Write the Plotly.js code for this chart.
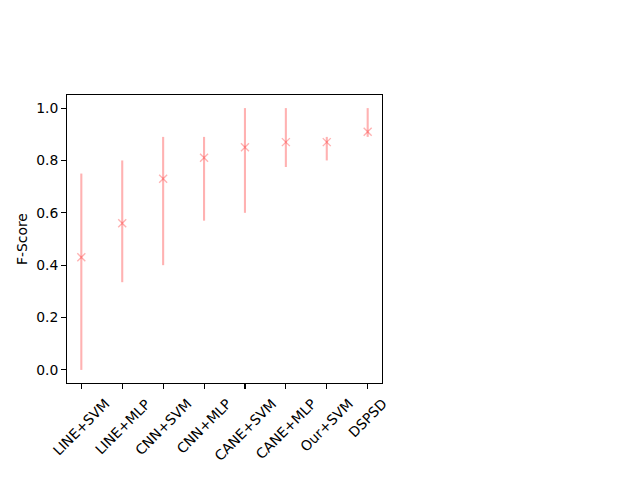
<!DOCTYPE html>
<html>
<head>
<meta charset="utf-8">
<script src="https://cdn.plot.ly/plotly-3.0.1.min.js"></script>
<style>html,body{margin:0;padding:0;background:#fff;}#chart{width:640px;height:480px;}</style>
</head>
<body>
<div id="chart"></div>
<script>
const methods = ["LINE+SVM","LINE+MLP","CNN+SVM","CNN+MLP","CANE+SVM","CANE+MLP","Our+SVM","DSPSD"];
const fscore = [0.43, 0.56, 0.73, 0.81, 0.85, 0.87, 0.87, 0.91];
const lowerBound = [0.00, 0.335, 0.40, 0.57, 0.60, 0.775, 0.80, 0.89];
const upperBound = [0.75, 0.80, 0.89, 0.89, 1.00, 1.00, 0.89, 1.00];

const idx = methods.map((_, i) => i);
const errPlus = fscore.map((v, i) => upperBound[i] - v);
const errMinus = fscore.map((v, i) => v - lowerBound[i]);
const col = 'rgba(255,0,0,0.3)';
const font = {family: 'DejaVu Sans, sans-serif', size: 13.9, color: '#000'};

const trace = {
  x: idx, y: fscore, type: 'scatter', mode: 'markers',
  marker: {symbol: 'x-thin-open', size: 8, color: col, line: {color: col, width: 1.4}},
  error_y: {type: 'data', symmetric: false, array: errPlus, arrayminus: errMinus,
            width: 0, thickness: 2.1, color: col},
  hoverinfo: 'skip'
};

const annotations = methods.map((m, i) => ({
  x: i, y: 0, xref: 'x', yref: 'paper', text: m, showarrow: false,
  textangle: -45, xanchor: 'center', yanchor: 'top', yshift: -10, font: font
}));
annotations.push({
  x: 0, y: 0.5, xref: 'paper', yref: 'paper', text: 'F-Score', showarrow: false,
  textangle: -90, xanchor: 'center', yanchor: 'middle', xshift: -45, font: font
});

const layout = {
  width: 640, height: 480,
  margin: {l: 67, r: 258, t: 95, b: 97},
  paper_bgcolor: '#fff', plot_bgcolor: '#fff',
  showlegend: false,
  font: font,
  xaxis: {
    range: [-0.35, 7.35], tickvals: idx, showticklabels: false,
    ticks: 'outside', ticklen: 4.9, tickwidth: 1.1, tickcolor: '#000',
    showline: true, mirror: true, linecolor: '#000', linewidth: 1.1,
    showgrid: false, zeroline: false
  },
  yaxis: {
    range: [-0.05, 1.05], tickvals: [0, 0.2, 0.4, 0.6, 0.8, 1.0], tickformat: '.1f',
    ticks: 'outside', ticklen: 4.9, tickwidth: 1.1, tickcolor: '#000',
    showline: true, mirror: true, linecolor: '#000', linewidth: 1.1,
    showgrid: false, zeroline: false, tickfont: font
  },
  annotations: annotations
};

Plotly.newPlot('chart', [trace], layout, {staticPlot: true, displayModeBar: false});
</script>
</body>
</html>
